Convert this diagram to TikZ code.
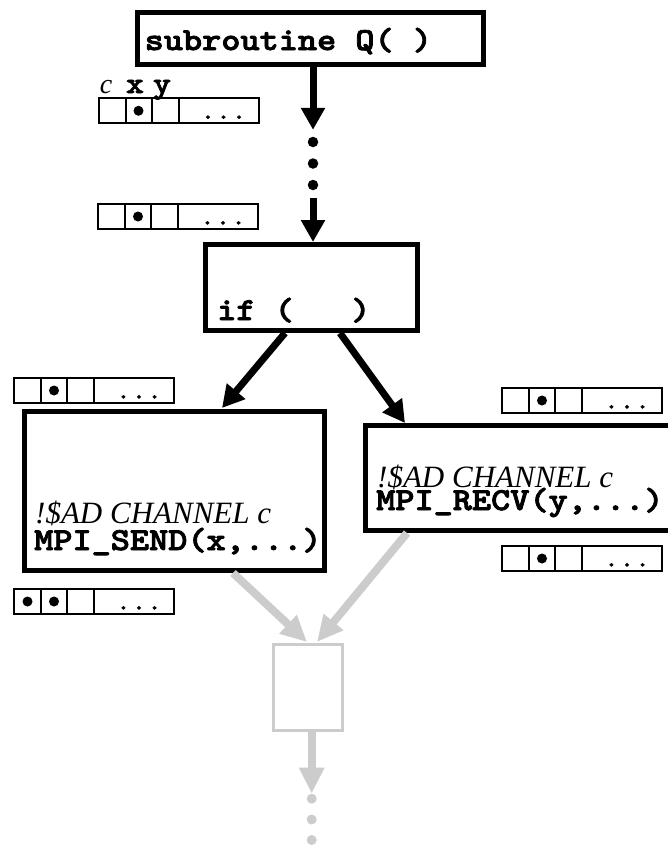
\documentclass[tikz,border=0pt]{standalone}
\usepackage{fontspec}
\setmainfont{Liberation Serif}
\newfontfamily\courbf{lmmonolt10-bold.otf}[FakeStretch=1.14,FakeBold=2.5]
\newfontfamily\courrm{lmmono10-regular.otf}[FakeStretch=1.14,FakeBold=1.5]
\usetikzlibrary{arrows.meta}
\definecolor{lgray}{gray}{0.8}
\newcommand\memrow[4]{%
  \begin{scope}[shift={(#2+1,#3+1)}]
    \node[memcell] (#1) at (0,0) {};
    \draw[line width=2pt] (27,0) -- (27,25) (53,0) -- (53,25) (80,0) -- (80,25);
    \foreach \cc in {#4} \fill (\cc,12.5) circle[radius=5pt];
    \node[dotstxt] (#1dots) at (125,20.5) {.{}.{}.};
  \end{scope}}
\begin{document}
\begin{tikzpicture}[x=1pt,y=-1pt,
  box/.style={draw, line width=5pt, rectangle, inner sep=0pt},
  gbox/.style={draw=lgray, line width=3pt, rectangle, inner sep=0pt},
  code/.style={font=\courbf\fontsize{32}{36}\selectfont, inner sep=0pt, anchor=base west},
  ann/.style={font=\itshape\fontsize{31}{36}\selectfont, inner sep=0pt, anchor=base west},
  lbl/.style={inner sep=0pt, anchor=base},
  dotstxt/.style={font=\courrm\fontsize{26}{30}\selectfont, inner sep=0pt, anchor=base},
  flow/.style={line width=7pt, -{Triangle[width=23pt,length=22pt]}},
  gflow/.style={draw=lgray, line width=8pt, -{Triangle[width=24pt,length=26pt]}},
  bdot/.style={circle, fill=black, inner sep=0pt, minimum size=10.5pt},
  gdot/.style={circle, fill=lgray, inner sep=0pt, minimum size=10pt},
  memcell/.style={draw, line width=2pt, inner sep=0pt, outer sep=0pt, minimum width=160pt, minimum height=25pt, anchor=north west},
]
\useasboundingbox (0,0) rectangle (667,846);

% boxes
\node[box, minimum width=346pt, minimum height=52pt] (top) at (310.5,38.5) {};
\node[code] (toptxt) at (144.5,50) {subroutine Q( )};

\node[box, minimum width=212pt, minimum height=86pt] (ifbox) at (311.5,287.5) {};
\node[code] (iftxt) at (217,320) {if (\ \ \ )};

\node[box, minimum width=300pt, minimum height=159pt] (send) at (174.5,491) {};
\node[ann] (sendann) at (35,523) {!\$AD CHANNEL c};
\node[code] (sendtxt) at (34,550) {MPI\_SEND(x,...)};

\node[box, minimum width=324.5pt, minimum height=105pt] (recv) at (527.75,478) {};
\node[ann] (recvann) at (377,487) {!\$AD CHANNEL c};
\node[code] (recvtxt) at (376,510) {MPI\_RECV(y,...)};

\node[gbox, minimum width=69pt, minimum height=86pt] (merge) at (308,687.5) {};

% dots of the flow
\node[bdot] (d1) at (313,142) {};
\node[bdot] (d2) at (313,163.5) {};
\node[bdot] (d3) at (313,185) {};
\node[gdot] (g1) at (311.7,798.7) {};
\node[gdot] (g2) at (311.7,819.5) {};
\node[gdot] (g3) at (311.7,840) {};

% black flow
\draw[flow] (top.south -| d1) -- ([yshift=6.75pt]d1.north);
\draw[flow] ([yshift=-8pt]d3.south) -- (d3 |- ifbox.north);
\draw[flow] ([xshift=-26.5pt]ifbox.south) -- ([xshift=47.5pt,yshift=1pt]send.north);
\draw[flow] ([xshift=28.5pt]ifbox.south) -- ([xshift=42pt]recv.north west);

% gray flow
\draw[gflow] ([xshift=211pt]send.south west) -- ([xshift=35pt,yshift=1pt]merge.north west);
\draw[gflow] ([xshift=44pt]recv.south west) -- ([xshift=45pt,yshift=1pt]merge.north west);
\draw[gflow] ([xshift=3.7pt]merge.south) -- (g1.north);

% memory rows
\node[lbl, font=\itshape\fontsize{28}{32}\selectfont] (lc) at (106,93) {c};
\node[lbl, font=\courbf\fontsize{30}{34}\selectfont] (lx) at (135,93) {x};
\node[lbl, font=\courbf\fontsize{30}{34}\selectfont] (ly) at (162,93) {y};
\memrow{m1}{97.5}{97.3}{40}
\memrow{m2}{97}{203}{40}
\memrow{m3}{13}{377}{40}
\memrow{m4}{13}{588}{13.5,40}
\memrow{m5}{501}{387}{40}
\memrow{m6}{501}{545}{40}
\end{tikzpicture}
\end{document}
